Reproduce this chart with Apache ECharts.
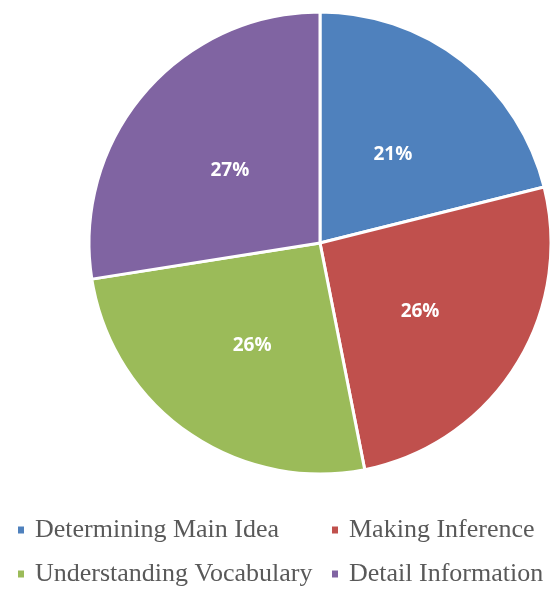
<!DOCTYPE html>
<html><head><meta charset="utf-8">
<script src="https://cdn.jsdelivr.net/npm/echarts@6/dist/echarts.min.js"></script>
<style>html,body{margin:0;padding:0;background:#fff}#c{width:550px;height:589px}</style>
</head><body><div id="c"></div>
<script>
const categories = ['Determining Main Idea', 'Making Inference', 'Understanding Vocabulary', 'Detail Information'];
const values = [21.1, 25.8, 25.6, 27.5];
const colors = ['#4F81BD', '#C0504D', '#9BBB59', '#8064A2'];

const chart = echarts.init(document.getElementById('c'));
const legendText = {fontFamily: '"Liberation Serif", "Times New Roman", serif', fontSize: 26, color: '#595959', padding: [0, 0, 0, 5]};
const legendPos = [[16, 517], [330, 517], [16, 561], [330, 561]];
chart.setOption({
  animation: false,
  color: colors,
  legend: categories.map((n, i) => ({
    left: legendPos[i][0], top: legendPos[i][1], itemWidth: 8, itemHeight: 9, icon: 'rect',
    data: [n], textStyle: legendText, padding: 0
  })),
  series: [{
    type: 'pie',
    center: [320, 243],
    radius: 231,
    startAngle: 90,
    clockwise: true,
    percentPrecision: 0,
    itemStyle: {borderColor: '#fff', borderWidth: 3},
    label: {position: 'inside', formatter: '{d}%', color: '#fff', fontWeight: 'bold',
            fontFamily: '"Open Sans", sans-serif', fontSize: 19, offset: [0, 5]},
    labelLine: {show: false},
    emphasis: {disabled: true},
    data: categories.map((n, i) => ({name: n, value: values[i]}))
  }]
});
</script></body></html>
